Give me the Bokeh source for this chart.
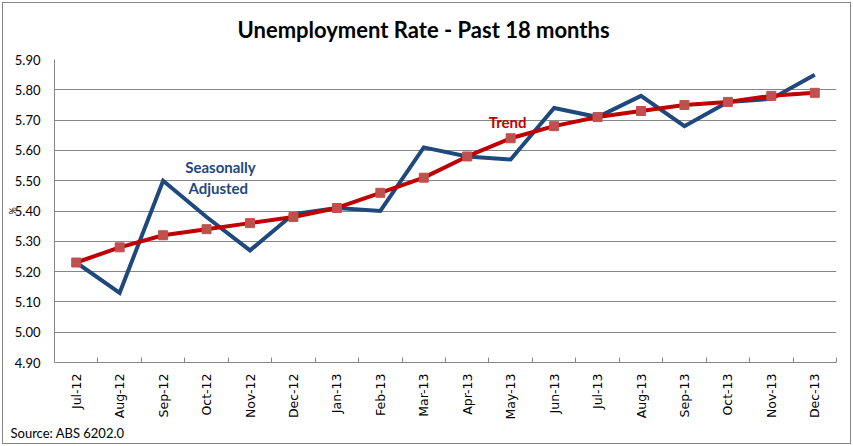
import math
from bokeh.plotting import figure
from bokeh.models import (Range1d, FixedTicker, Label, Title,
                          NumeralTickFormatter, ColumnDataSource)
from bokeh.embed import file_html
from bokeh.resources import INLINE

months = ["Jul-12", "Aug-12", "Sep-12", "Oct-12", "Nov-12", "Dec-12",
          "Jan-13", "Feb-13", "Mar-13", "Apr-13", "May-13", "Jun-13",
          "Jul-13", "Aug-13", "Sep-13", "Oct-13", "Nov-13", "Dec-13"]
seasonally_adjusted = [5.23, 5.13, 5.50, 5.38, 5.27, 5.39, 5.41, 5.40, 5.61,
                       5.58, 5.57, 5.74, 5.71, 5.78, 5.68, 5.76, 5.77, 5.85]
trend = [5.23, 5.28, 5.32, 5.34, 5.36, 5.38, 5.41, 5.46, 5.51,
         5.58, 5.64, 5.68, 5.71, 5.73, 5.75, 5.76, 5.78, 5.79]
y_ticks = [4.90, 5.00, 5.10, 5.20, 5.30, 5.40, 5.50, 5.60, 5.70, 5.80, 5.90]

idx = list(range(len(months)))
src = ColumnDataSource(dict(x=idx, sa=seasonally_adjusted, trend=trend))

GRID = "#868686"
BLUE = "#1F497D"
RED = "#C00000"

p = figure(width=853, height=446, output_backend="svg", toolbar_location=None,
           x_range=Range1d(-0.5, len(months) - 0.5),
           y_range=Range1d(y_ticks[0], y_ticks[-1]),
           min_border_left=54, min_border_right=17,
           min_border_top=59, min_border_bottom=84,
           styles={"background-color": "white",
                   "outline": "1px solid #868686", "outline-offset": "-3px"})
p.outline_line_color = None
p.background_fill_color = "white"
p.border_fill_color = None

# titles
p.add_layout(Title(text="Unemployment Rate - Past 18 months", align="left",
                   vertical_align="top", standoff=29, offset=183,
                   text_font="Lato", text_font_style="bold",
                   text_font_size="22px", text_color="black"), "above")
p.add_layout(Title(text="Source: ABS 6202.0", align="left", offset=-44,
                   standoff=1,
                   text_font="Lato", text_font_style="normal",
                   text_font_size="13px", text_color="black"), "below")

# y axis
p.yaxis.ticker = FixedTicker(ticks=y_ticks)
p.yaxis.formatter = NumeralTickFormatter(format="0.00")
p.yaxis.major_tick_out = 0
p.yaxis.major_tick_in = 0
p.yaxis.minor_tick_out = 0
p.yaxis.minor_tick_in = 0
p.yaxis.axis_line_color = GRID
p.yaxis.major_label_standoff = 14
p.yaxis.major_label_text_font = "Lato"
p.yaxis.major_label_text_font_size = "13px"
p.yaxis.major_label_text_color = "black"
p.yaxis.axis_label = "%"
p.yaxis.axis_label_standoff = -6
p.yaxis.axis_label_text_font = "Lato"
p.yaxis.axis_label_text_font_style = "normal"
p.yaxis.axis_label_text_font_size = "9px"
p.yaxis.axis_label_text_color = "black"

# x axis (ticks between categories, pointing inward)
p.xaxis.ticker = FixedTicker(ticks=idx, minor_ticks=[i + 0.5 for i in idx])
p.xaxis.major_label_overrides = {i: m for i, m in enumerate(months)}
p.xaxis.major_label_orientation = math.pi / 2
p.xaxis.major_tick_out = 0
p.xaxis.major_tick_in = 0
p.xaxis.minor_tick_out = 0
p.xaxis.minor_tick_in = 5
p.xaxis.minor_tick_line_color = GRID
p.xaxis.axis_line_color = GRID
p.xaxis.major_label_standoff = 11
p.xaxis.major_label_text_font = "DejaVu Sans"
p.xaxis.major_label_text_font_size = "12.5px"
p.xaxis.major_label_text_color = "black"

p.xgrid.grid_line_color = None
p.ygrid.grid_line_color = GRID
p.ygrid.grid_line_width = 1

p.line("x", "sa", source=src, line_color=BLUE, line_width=4, line_join="miter")
p.line("x", "trend", source=src, line_color=RED, line_width=4, line_join="round")
p.scatter("x", "trend", source=src, marker="square", size=9,
          fill_color="#C0504D", line_color="#C0504D")

# annotations in data space
p.add_layout(Label(x=3.32, y=5.544, text="Seasonally", text_align="center",
                   text_baseline="middle", text_font="Lato", text_font_style="bold",
                   text_font_size="15px", text_color=BLUE))
p.add_layout(Label(x=3.27, y=5.475, text="Adjusted", text_align="center",
                   text_baseline="middle", text_font="Lato", text_font_style="bold",
                   text_font_size="15px", text_color=BLUE))
p.add_layout(Label(x=9.93, y=5.695, text="Trend", text_align="center",
                   text_baseline="middle", text_font="Lato", text_font_style="bold",
                   text_font_size="15px", text_color=RED))

open("out.html", "w").write(file_html(p, INLINE))
